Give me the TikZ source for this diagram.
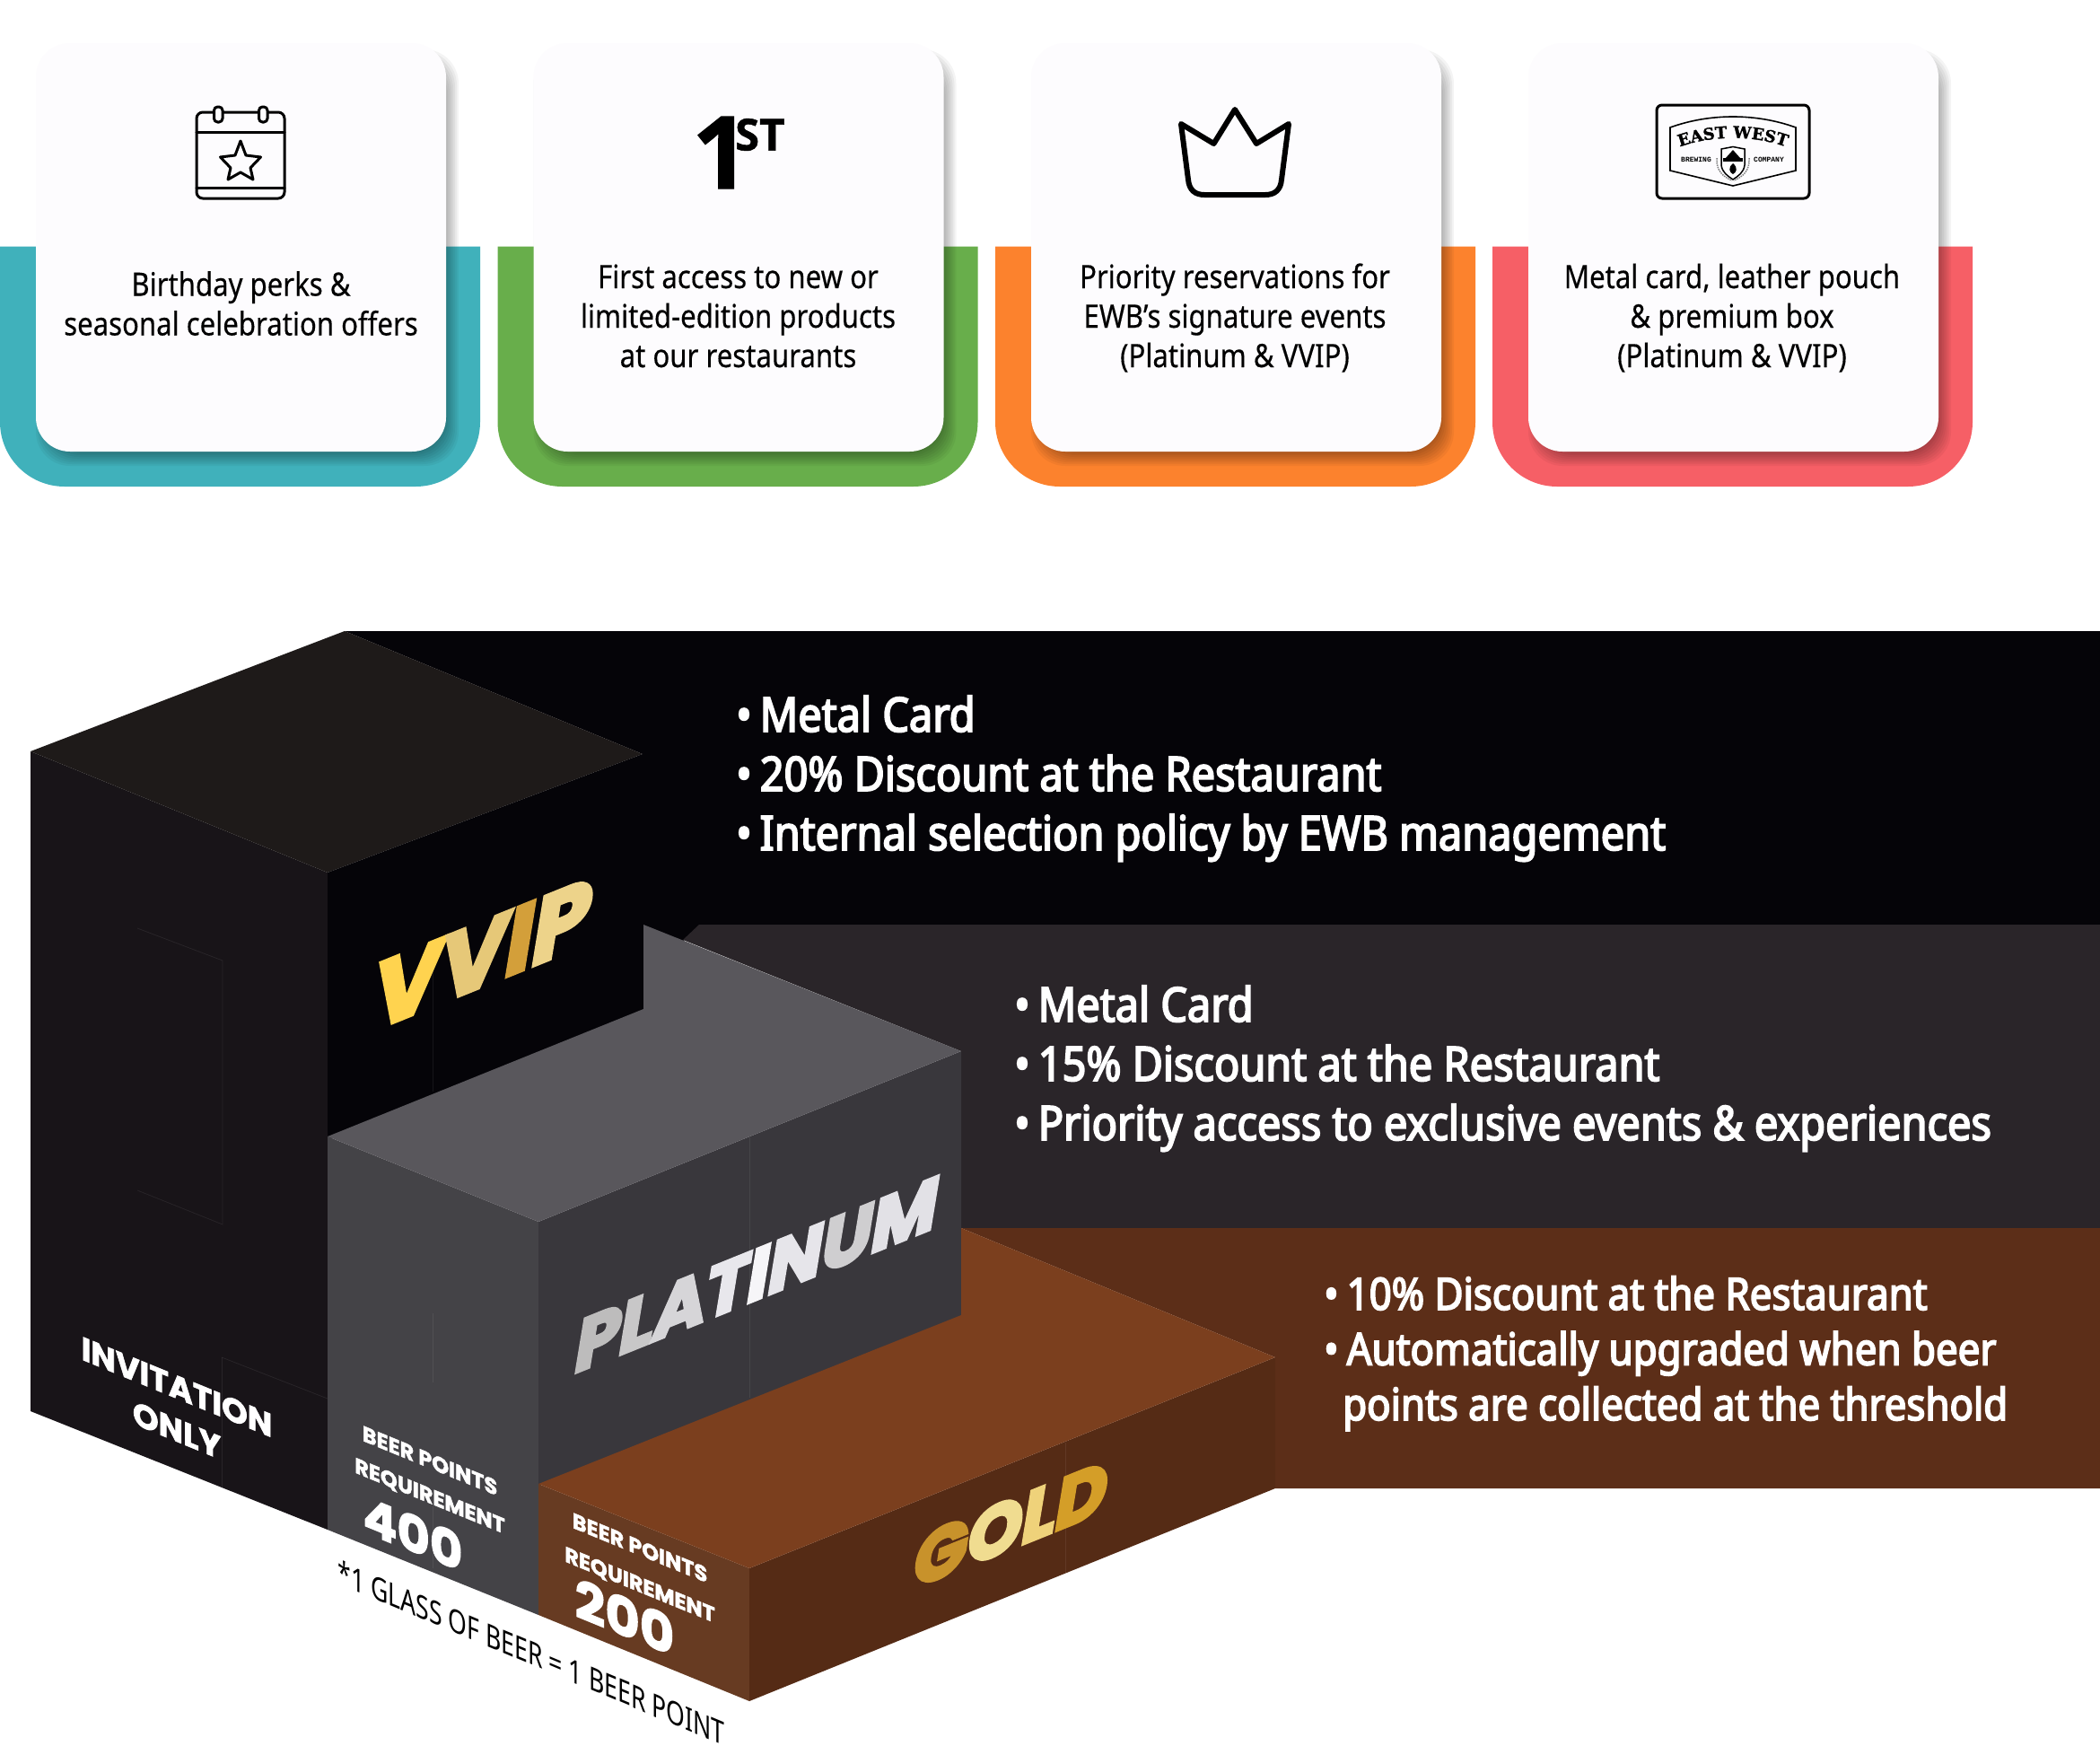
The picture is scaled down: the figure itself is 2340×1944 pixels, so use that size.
\documentclass[tikz,border=0pt]{standalone}
\usepackage{fontspec}
\usetikzlibrary{decorations.text}
\newfontfamily\cardf{Noto Sans}[FakeStretch=0.865,FakeBold=0.3]
\newfontfamily\footf{Noto Sans}[FakeStretch=0.74]
\newfontfamily\bandf{Noto Sans}[FakeStretch=0.885,FakeBold=3.5]
\newfontfamily\popf{Poppins}[FakeBold=2]
\newfontfamily\bigf{Poppins}[FakeBold=5]
\newfontfamily\onef{Open Sans}[FakeBold=1]
\newfontfamily\eastf{DejaVu Serif}[FakeBold=1.5]
\newfontfamily\smallf{Liberation Mono}
\definecolor{teal1}{HTML}{40B1BB}
\definecolor{green1}{HTML}{68AE4B}
\definecolor{orange1}{HTML}{FC822D}
\definecolor{red1}{HTML}{F65F66}
\definecolor{cardc}{HTML}{FDFCFE}
\definecolor{vbk}{HTML}{050408}
\definecolor{vtop}{HTML}{1E1A19}
\definecolor{vleft}{HTML}{181418}
\definecolor{pband}{HTML}{2A2529}
\definecolor{ptop}{HTML}{59575C}
\definecolor{pleft}{HTML}{444347}
\definecolor{pright}{HTML}{39373C}
\definecolor{gband}{HTML}{5C2E18}
\definecolor{gtop}{HTML}{7B3F1E}
\definecolor{gleft}{HTML}{673B22}
\definecolor{gright}{HTML}{552B15}
\tikzset{
  cardtext/.style={font=\cardf\fontsize{36}{44}\selectfont,text=black,align=center,anchor=base,inner sep=0pt},
  bandtext/.style={font=\bandf\fontsize{53}{66}\selectfont,text=white,align=left,anchor=base west,inner sep=0pt},
  goldtext/.style={font=\bandf\fontsize{49.5}{61.5}\selectfont,text=white,align=left,anchor=base west,inner sep=0pt},
  leftface/.style={yslant=-0.41,inner sep=0pt,align=center,text=white},
  rightface/.style={yslant=0.404,inner sep=0pt,align=center},
  icon/.style={line width=3pt,draw=black,line join=round,line cap=round},
  seam/.style={line width=0.8pt,draw=white,draw opacity=0.07},
}
\newcommand{\tier}[2]{%
  \fill[#2] (#1,274.5) -- (#1,470) arc[start angle=180,end angle=270,radius=72pt]
    -- ({#1+463},542) arc[start angle=270,end angle=360,radius=72pt]
    -- ({#1+535},274.5) -- cycle;
  \foreach \s in {-7,-5,...,7}{
    \fill[black,opacity=0.045,rounded corners=38pt]
      ({#1+40+7-\s},{48+14-\s}) rectangle ({#1+497+7+\s},{503+9+\s});
  }
  \fill[cardc,rounded corners=38pt] ({#1+40},48) rectangle ({#1+497},503);
}
\begin{document}
\begin{tikzpicture}[x=1pt,y=-1pt]
\useasboundingbox (0,0) rectangle (2340,1944);
\fill[white] (0,0) rectangle (2340,1944);
% ---- cards
\tier{0}{teal1}
\tier{554.5}{green1}
\tier{1109}{orange1}
\tier{1663}{red1}
\node[cardtext] (t1) at (268.5,373.5) {Birthday perks \&\\seasonal celebration offers};
\node[cardtext] (t2) at (822.5,409) {First access to new or\\limited-edition products\\at our restaurants};
\node[cardtext] (t3) at (1376,409) {Priority reservations for\\EWB’s signature events\\(Platinum \& VVIP)};
\node[cardtext] (t4) at (1930,409) {Metal card, leather pouch\\\& premium box\\(Platinum \& VVIP)};
% calendar
\draw[icon,rounded corners=7pt] (219,221) rectangle (317,125);
\fill[cardc] (237,121) rectangle (249,131);\fill[cardc] (287,121) rectangle (299,131);
\draw[icon,rounded corners=4pt] (238.5,119) rectangle (248,136);
\draw[icon,rounded corners=4pt] (288.5,119) rectangle (298,136);
\draw[icon] (219,147.5) -- (317,147.5);
\draw[icon] (219,209) -- (317,209);
\draw[icon] (268,157) -- (274,173) -- (290.5,175) -- (279,187) -- (282,200) -- (268,192) -- (254,200) -- (257,187) -- (245.5,175) -- (262,173) -- cycle;
% 1ST
\node[font=\onef\bfseries\fontsize{112}{112}\selectfont,anchor=base west,inner sep=0pt] (one) at (771,210) {1\kern-16pt\raisebox{42.5pt}{\fontsize{49}{49}\selectfont ST}};
% crown
\draw[line width=6pt,line join=round,line cap=round] (1316,138) -- (1352.5,160) -- (1376,122) -- (1400,160) -- (1436,138) -- (1428,200) .. controls (1427,212) and (1420,217) .. (1410,217) -- (1342,217) .. controls (1332,217) and (1325,212) .. (1324,200) -- cycle;
% logo
\draw[line width=3pt,rounded corners=6pt] (1846,117) rectangle (2016,221);
\draw[line width=1.6pt,line join=miter] (1861,142) .. controls (1905,126) and (1957,126) .. (2001,142) -- (2001,190) -- (1931,207) -- (1861,190) -- cycle;
\path[decorate,decoration={text along path,text align=center,text={|\eastf\bfseries\fontsize{18}{18}\selectfont|EAST WEST}}]
  (1868,165) .. controls (1905,150) and (1957,150) .. (1994,165);
\node[font=\smallf\bfseries\fontsize{8}{8}\selectfont,inner sep=0pt] (brew) at (1890,178) {BREWING};
\node[font=\smallf\bfseries\fontsize{8}{8}\selectfont,inner sep=0pt] (comp) at (1971,178) {COMPANY};
\draw[line width=1.5pt,fill=white] (1918,166) -- (1931,163.5) -- (1944,166) -- (1944,184) .. controls (1943,192) and (1937,196) .. (1931,200) .. controls (1925,196) and (1919,192) .. (1918,184) -- cycle;
\fill (1923,176) -- (1931,167) -- (1939,176) -- cycle;
\fill (1920,176) rectangle (1942,180);
\fill (1931,182) .. controls (1937,187) and (1935,192) .. (1931,194) .. controls (1927,192) and (1925,187) .. (1931,182) -- cycle;
\draw[line width=1.5pt,gray,dash pattern=on 1.5pt off 1pt] (1913,176) .. controls (1912,190) and (1920,197) .. (1930,201);
\draw[line width=1.5pt,gray,dash pattern=on 1.5pt off 1pt] (1949,176) .. controls (1950,190) and (1942,197) .. (1932,201);
% ---- bands
\fill[vbk] (384,703) -- (2340,703) -- (2340,1035) -- (782,1035) -- (762,1047) -- (720,1126) -- (716,1126) -- (716,840) -- cycle;
\fill[pband] (779,1030) -- (2340,1030) -- (2340,1368) -- (1071,1368) -- (1071,1171) -- (761,1047) -- cycle;
\fill[gband] (1071,1368) -- (2340,1368) -- (2340,1658) -- (1421,1658) -- (1421,1512) -- cycle;
% VVIP block
\fill[vleft] (34,837) -- (365,972) -- (365,1704) -- (34,1572) -- cycle;
\fill[vtop] (384,703) -- (716,840) -- (365,972) -- (34,837) -- cycle;
\fill[vbk] (365,972) -- (716,840) -- (716,1130) -- (365,1270) -- cycle;
% PLATINUM block
\fill[pleft] (365,1266) -- (600,1361) -- (600,1799) -- (365,1704) -- cycle;
\fill[pright] (600,1361) -- (1071,1171) -- (1071,1468) -- (600,1655) -- cycle;
\fill[ptop] (365,1266) -- (717,1124) -- (717,1030) -- (1071,1171) -- (600,1361) -- cycle;
% GOLD block
\fill[gleft] (600,1653) -- (835,1747) -- (835,1895) -- (600,1799) -- cycle;
\fill[gright] (835,1747) -- (1421,1512) -- (1421,1658) -- (835,1895) -- cycle;
\fill[gtop] (600,1653) -- (1071,1465) -- (1071,1368) -- (1421,1512) -- (835,1747) -- cycle;
% seams
\draw[seam] (153,1034) -- (248,1070) -- (248,1364) -- (153,1326);
\draw[seam] (247,1512) -- (247,1657);
\draw[seam] (247,1512) -- (365,1558);
\draw[seam] (482,1463) -- (482,1540);
\draw[seam] (482,1678) -- (482,1747);
\draw[seam] (835.5,1267) -- (835.5,1557);
\draw[seam] (1187,1607) -- (1187,1752);
\draw[seam] (482,1078) -- (482,1216);
% band texts
\node[bandtext] (vt) at (820,947) {•\hspace{9pt}Metal Card\\•\hspace{9pt}20\% Discount at the Restaurant\\•\hspace{9pt}Internal selection policy by EWB management};
\node[bandtext] (pt) at (1130,1270) {•\hspace{9pt}Metal Card\\•\hspace{9pt}15\% Discount at the Restaurant\\•\hspace{9pt}Priority access to exclusive events \& experiences};
\node[goldtext] (gt) at (1475,1582) {•\hspace{9pt}10\% Discount at the Restaurant\\•\hspace{9pt}Automatically upgraded when beer\\\hspace{21pt}points are collected at the threshold};
% block labels
\node[rightface,font=\bigf\bfseries\itshape\fontsize{101}{101}\selectfont] (vvip) at (537,1063)
  {\textcolor[HTML]{FFD34F}{V}\textcolor[HTML]{E6C878}{V}\textcolor[HTML]{D39F3A}{I}\textcolor[HTML]{EDD38A}{P}};
\node[rightface,font=\bigf\bfseries\itshape\fontsize{79}{79}\selectfont] (plat) at (843,1420)
  {\textcolor[HTML]{BDBCBC}{P}\textcolor[HTML]{C8C7C8}{L}\textcolor[HTML]{D6D5D8}{A}\textcolor[HTML]{E8E7EC}{T}\textcolor[HTML]{F6F5F8}{I}\textcolor[HTML]{E6E5EA}{N}\textcolor[HTML]{CFCED0}{U}\textcolor[HTML]{E2E1E6}{M}};
\node[rightface,font=\bigf\bfseries\itshape\fontsize{78}{78}\selectfont] (gold) at (1126,1698)
  {\textcolor[HTML]{C8922B}{G}\textcolor[HTML]{F0DC90}{O}\textcolor[HTML]{EFD27A}{L}\textcolor[HTML]{D49E28}{D}};
\node[leftface,font=\popf\bfseries\fontsize{36.5}{48}\selectfont] (inv) at (197,1569) {INVITATION\\ONLY};
\node[leftface,font=\popf\bfseries\fontsize{24}{39}\selectfont] (b4) at (479,1648) {BEER POINTS\\REQUIREMENT};
\node[leftface,font=\popf\bfseries\fontsize{56}{56}\selectfont] (n4) at (460,1708) {400};
\node[leftface,font=\popf\bfseries\fontsize{24}{41}\selectfont] (b2) at (713,1746) {BEER POINTS\\REQUIREMENT};
\node[leftface,font=\popf\bfseries\fontsize{59}{59}\selectfont] (n2) at (696,1801) {200};
\node[yslant=-0.42,inner sep=0pt,font=\footf\fontsize{36}{36}\selectfont] (foot) at (592,1841) {*1 GLASS OF BEER = 1 BEER POINT};
\end{tikzpicture}
\end{document}
